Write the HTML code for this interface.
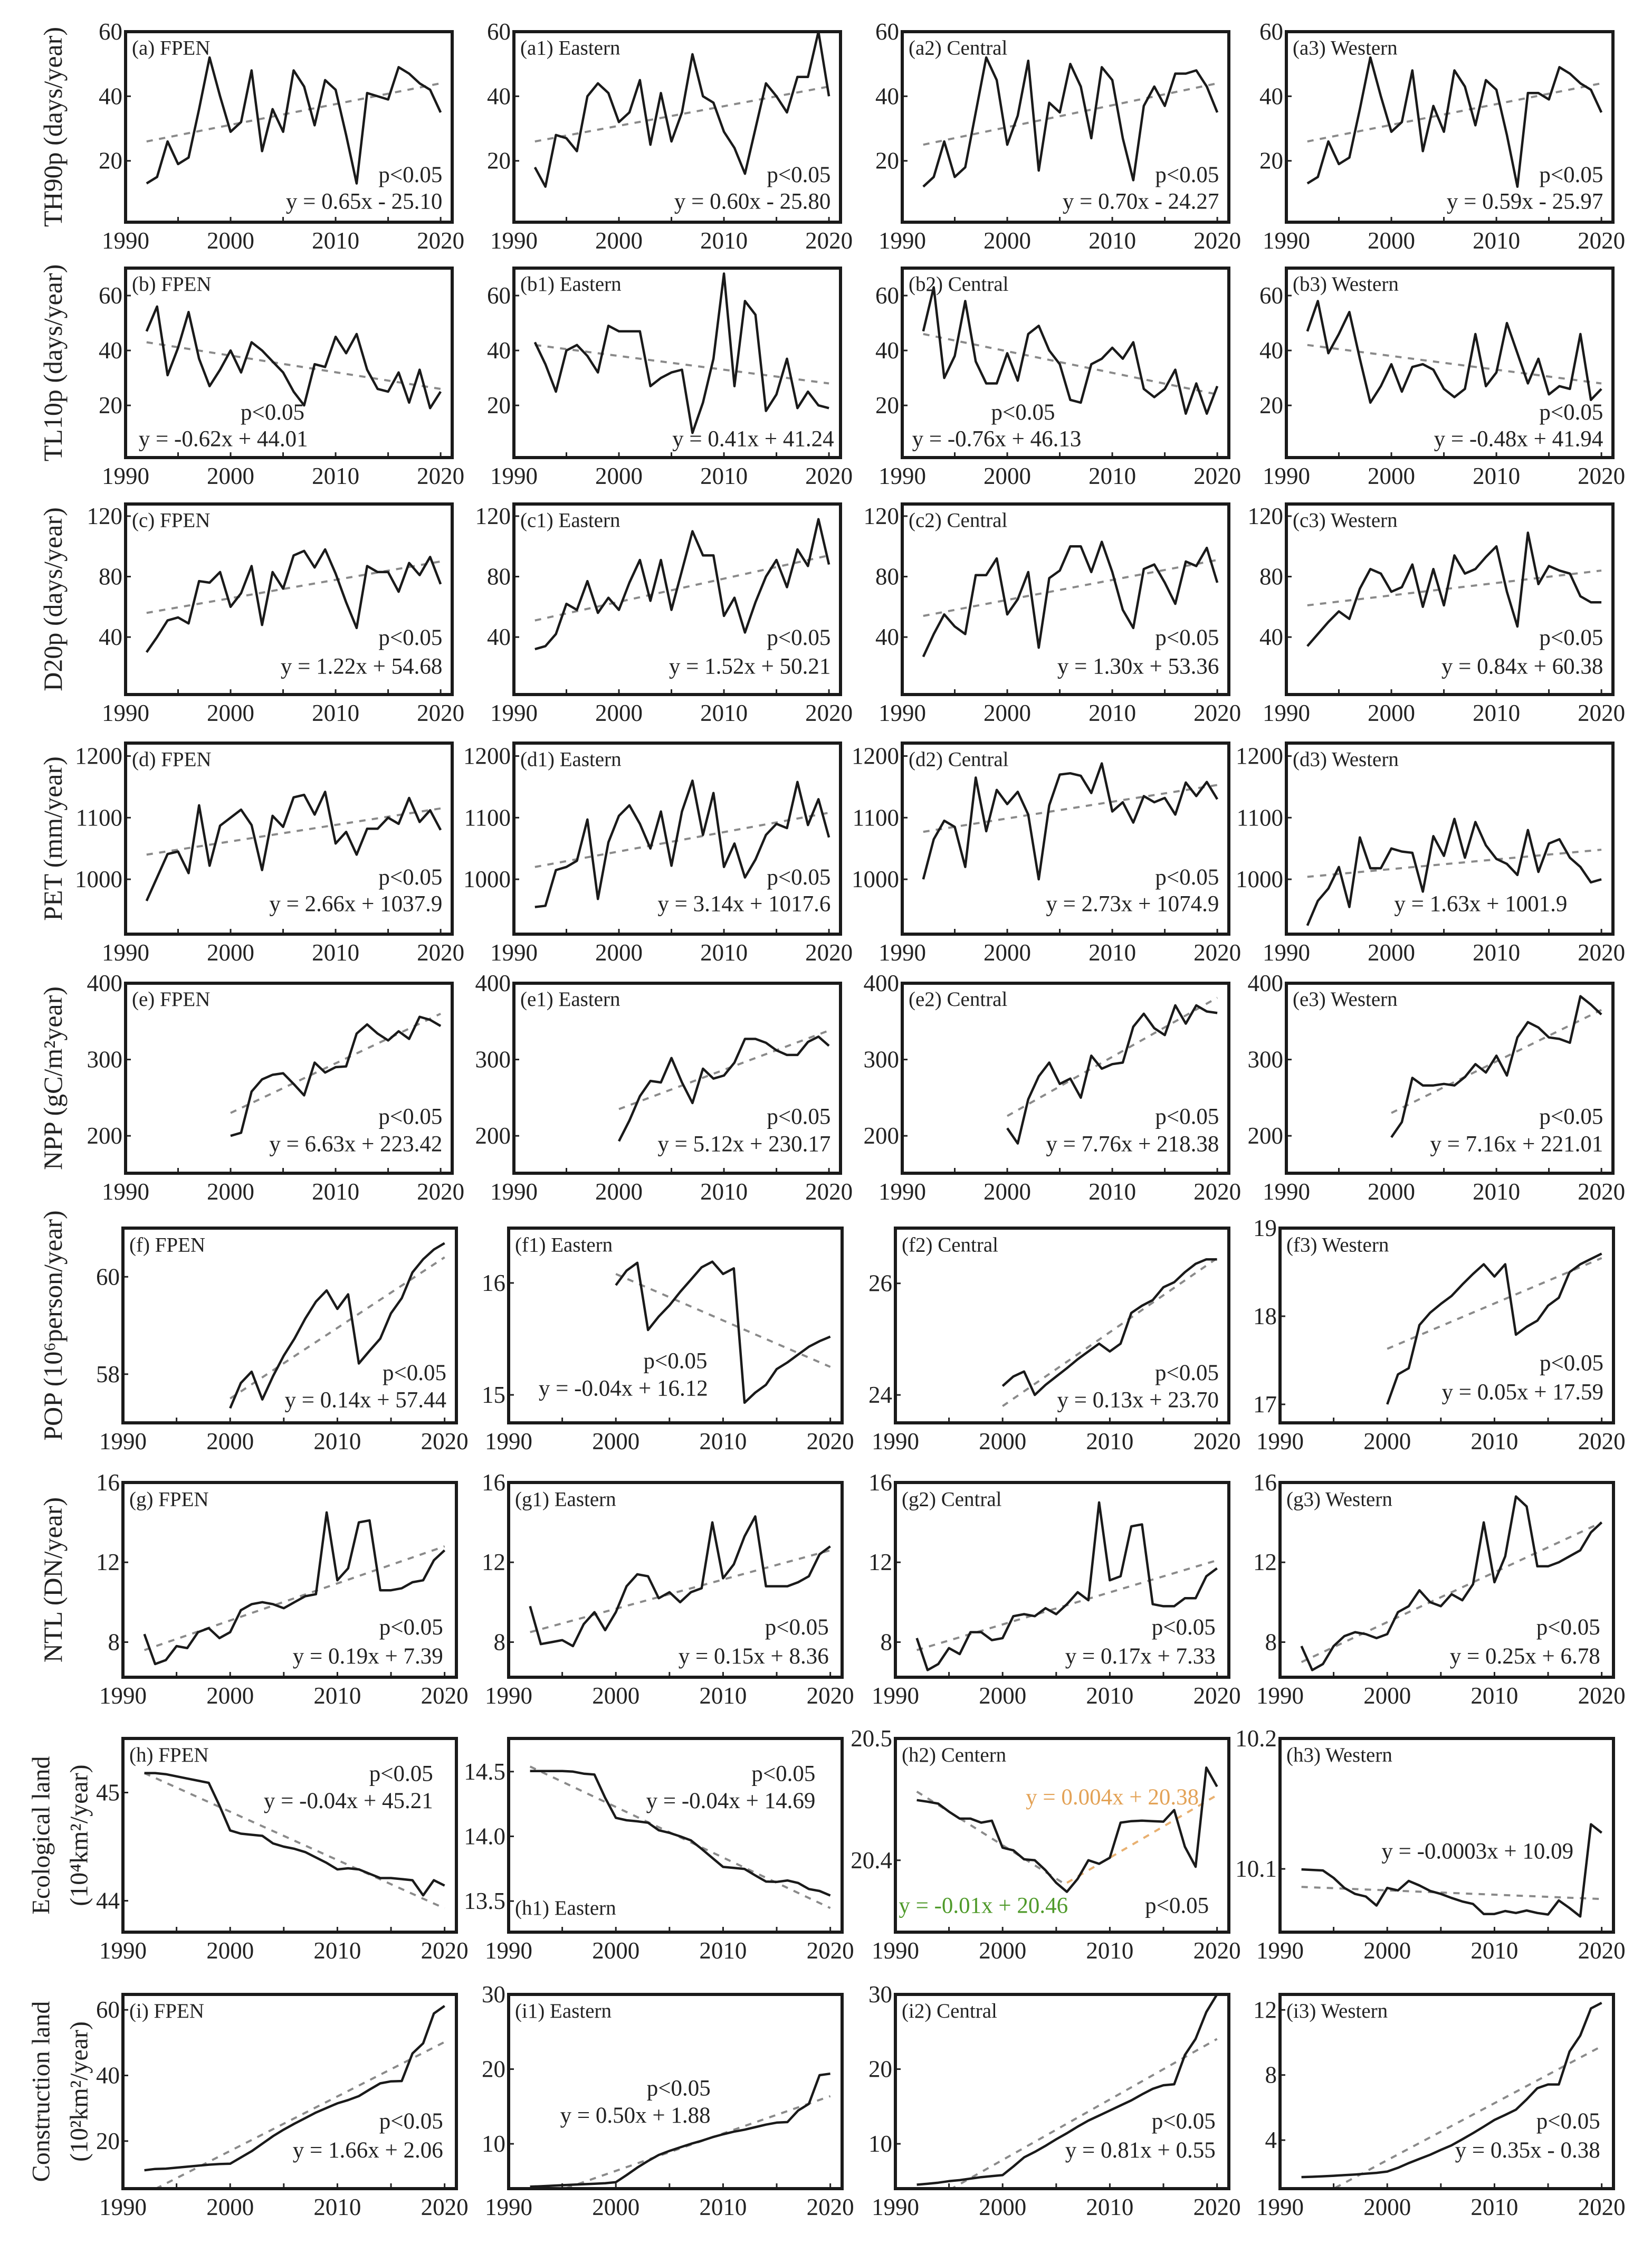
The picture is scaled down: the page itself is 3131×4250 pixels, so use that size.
<!DOCTYPE html>
<html><head><meta charset="utf-8"><style>
html,body{margin:0;padding:0;background:#fff;}
svg{display:block;font-family:"Liberation Serif","DejaVu Serif",serif;}
</style></head><body>
<svg id="fig" width="3131" height="4250" viewBox="0 0 3131 4250" xmlns="http://www.w3.org/2000/svg"></svg>
<script>
// ---------- data (1992-2020 unless noted; NPP/POP 2000-2020) ----------
const th90pFPEN=[13,15,26,19,21,36,52,40,29,32,48,23,36,29,48,43,31,45,42,28,13,41,40,39,49,47,44,42,35];
const th90pEast=[18,12,28,27,23,40,44,41,32,35,45,25,41,26,35,53,40,38,29,24,16,30,44,40,35,46,46,60,40];
const th90pCent=[12,15,26,15,18,35,52,45,25,34,51,17,38,35,50,43,27,49,45,27,14,37,43,37,47,47,48,43,35];
const th90pWest=[13,15,26,19,21,36,52,40,29,32,48,23,37,29,48,43,31,45,42,28,12,41,41,39,49,47,44,42,35];
const tl10pFPEN=[47,56,31,41,54,37,27,33,40,32,43,40,36,32,25,20,35,34,45,39,46,33,26,25,32,21,33,19,25];
const tl10pEast=[43,35,25,40,42,38,32,49,47,47,47,27,30,32,33,10,21,37,68,27,58,53,18,24,37,19,25,20,19];
const tl10pCent=[47,63,30,38,58,36,28,28,39,29,46,49,40,35,22,21,35,37,41,37,43,26,23,26,33,17,28,17,27];
const tl10pWest=[47,58,39,46,54,37,21,27,35,25,34,35,33,26,23,26,46,27,32,50,39,28,37,24,27,26,46,22,26];
const d20pFPEN=[30,40,51,53,49,77,76,83,60,69,87,48,83,72,94,97,86,98,82,63,46,87,83,83,70,89,81,93,75];
const d20pEast=[32,34,42,62,58,77,56,66,58,76,91,64,91,58,84,110,94,94,54,66,43,63,80,91,73,98,87,118,88];
const d20pCent=[27,42,55,47,42,81,81,92,55,65,83,33,79,84,100,100,83,103,83,58,46,85,88,76,62,90,87,99,76];
const d20pWest=[34,42,50,57,52,72,85,82,70,73,88,60,85,61,94,82,85,93,100,70,47,109,75,87,84,82,67,63,63];
const petFPEN=[965,1003,1041,1045,1010,1120,1022,1087,1100,1113,1088,1015,1103,1085,1133,1137,1105,1142,1058,1077,1040,1082,1082,1100,1090,1132,1093,1112,1080];
const petEast=[955,957,1015,1020,1030,1097,968,1060,1103,1120,1090,1050,1110,1022,1110,1160,1072,1140,1020,1058,1003,1032,1072,1090,1083,1158,1088,1130,1068];
const petCent=[1000,1065,1095,1085,1020,1165,1078,1145,1122,1142,1105,1000,1120,1170,1172,1168,1140,1188,1110,1125,1092,1135,1125,1132,1105,1157,1135,1158,1130];
const petWest=[925,965,985,1020,955,1068,1018,1018,1050,1045,1043,980,1070,1038,1098,1035,1093,1055,1033,1025,1007,1080,1012,1058,1065,1035,1020,995,1000];
const nppFPEN=[200,204,258,274,280,282,268,253,296,283,290,291,334,346,334,325,337,327,356,352,344];
const nppEast=[193,220,252,272,270,302,270,243,288,275,279,296,327,327,322,312,306,306,323,330,318];
const nppCent=[210,190,248,278,296,268,275,250,305,288,294,296,343,360,341,332,371,347,371,363,361];
const nppWest=[198,218,276,266,266,268,266,277,294,283,305,279,329,349,342,329,327,322,383,372,359];
const popFPEN=[57.3,57.82,58.05,57.48,57.96,58.38,58.73,59.14,59.49,59.72,59.34,59.64,58.22,58.48,58.73,59.25,59.56,60.09,60.36,60.56,60.69];
const popEast=[15.98,16.11,16.18,15.58,15.70,15.80,15.92,16.03,16.14,16.19,16.08,16.13,14.93,15.02,15.09,15.23,15.29,15.36,15.43,15.48,15.52];
const popCent=[24.16,24.33,24.42,24.0,24.18,24.33,24.48,24.64,24.78,24.92,24.78,24.92,25.47,25.6,25.7,25.93,26.02,26.2,26.35,26.43,26.43];
const popWest=[17.0,17.34,17.41,17.9,18.04,18.14,18.23,18.36,18.48,18.59,18.45,18.59,17.79,17.88,17.95,18.12,18.21,18.5,18.59,18.65,18.71];
const ntlFPEN=[8.4,6.9,7.1,7.8,7.7,8.5,8.7,8.2,8.5,9.6,9.9,10.0,9.9,9.7,10.0,10.3,10.4,14.5,11.1,11.7,14.0,14.1,10.6,10.6,10.7,11.0,11.1,12.1,12.6];
const ntlEast=[9.8,7.9,8.0,8.1,7.8,8.9,9.5,8.6,9.5,10.8,11.4,11.3,10.2,10.5,10.0,10.5,10.7,14.0,11.2,11.9,13.3,14.3,10.8,10.8,10.8,11.0,11.3,12.4,12.8];
const ntlCent=[8.2,6.6,6.9,7.7,7.4,8.5,8.5,8.1,8.2,9.3,9.4,9.3,9.7,9.4,9.9,10.5,10.1,15.0,11.1,11.3,13.8,13.9,9.9,9.8,9.8,10.2,10.2,11.3,11.7];
const ntlWest=[7.8,6.6,6.9,7.8,8.3,8.5,8.4,8.2,8.4,9.5,9.8,10.6,10.0,9.8,10.4,10.1,10.9,14.0,11.0,12.3,15.3,14.8,11.8,11.8,12.0,12.3,12.6,13.5,14.0];
const ecoFPEN=[45.18,45.18,45.17,45.15,45.13,45.11,45.09,44.88,44.65,44.62,44.61,44.60,44.53,44.5,44.48,44.45,44.40,44.35,44.29,44.30,44.29,44.25,44.21,44.21,44.2,44.19,44.05,44.19,44.14];
const ecoEast=[14.504,14.504,14.504,14.504,14.5,14.484,14.477,14.298,14.143,14.124,14.116,14.105,14.047,14.027,14.0,13.969,13.903,13.833,13.764,13.756,13.748,13.698,13.651,13.648,13.659,13.64,13.593,13.578,13.543];
const ecoCent=[20.4494,20.4481,20.4465,20.4399,20.4342,20.4342,20.4309,20.4325,20.4103,20.4082,20.4008,20.4,20.3918,20.3815,20.3741,20.3848,20.4,20.3971,20.4021,20.4309,20.4321,20.4325,20.4321,20.4317,20.4412,20.4111,20.3947,20.4761,20.4605];
const ecoWest=[10.0996,10.0992,10.0988,10.0931,10.0854,10.0808,10.0788,10.0719,10.0854,10.0835,10.0908,10.0873,10.0831,10.0808,10.0777,10.075,10.0731,10.0654,10.0654,10.0677,10.0662,10.0681,10.0662,10.065,10.0758,10.07,10.0635,10.1342,10.1277];
const conFPEN=[11.1,11.5,11.6,11.9,12.2,12.5,12.8,13.0,13.1,15.0,16.9,19.2,21.5,23.5,25.3,27.0,28.7,30.1,31.5,32.5,33.7,35.7,37.6,38.2,38.3,46.7,49.8,58.9,61.2];
const conEast=[4.26,4.32,4.39,4.46,4.53,4.59,4.66,4.73,4.86,5.81,6.82,7.70,8.51,9.05,9.53,10.0,10.41,10.88,11.28,11.62,11.89,12.23,12.57,12.84,12.91,14.46,15.34,19.19,19.39];
const conCent=[4.53,4.66,4.80,5.0,5.14,5.34,5.54,5.68,5.81,6.96,8.18,8.92,9.73,10.61,11.42,12.30,13.11,13.78,14.46,15.14,15.81,16.62,17.36,17.84,17.97,21.89,24.05,27.64,30.0];
const conWest=[1.73,1.75,1.78,1.81,1.85,1.89,1.94,1.99,2.07,2.3,2.59,2.85,3.1,3.4,3.68,4.05,4.43,4.83,5.24,5.55,5.87,6.5,7.19,7.42,7.42,9.44,10.42,12.09,12.43];
// trend lines: [startValue, endValue] over the series' years
const trendTH=[[26,44],[26,43],[25,44],[26,44]];
const trendTL=[[43,26],[42,28],[46,24],[42,28]];
const trendD20=[[56,90],[51,94],[54,91],[61,84]];
const trendPET=[[1040,1115],[1020,1108],[1077,1153],[1004,1048]];
const trendNPP=[[230,360],[235,338],[226,381],[230,365]];
const trendPOP=[[57.5,60.4],[16.08,15.25],[23.8,26.45],[17.63,18.66]];
const trendNTL=[[7.6,12.8],[8.5,12.6],[7.6,12.1],[7.0,14.0]];
const trendECO=[[45.18,43.93],[14.539,13.446],null,[10.0862,10.0769]];
const trendEcoCentGreen=[20.4564,20.3794]; // 1992-2006
const trendEcoCentOrange=[20.3815,20.4535]; // 2006-2020
const trendCON=[[3.72,50.2],[2.38,16.38],[1.36,24.04],[-0.03,9.77]];
const xTickYears=[1990,2000,2010,2020];
const eqTH=["y = 0.65x - 25.10","y = 0.60x - 25.80","y = 0.70x - 24.27","y = 0.59x - 25.97"];
const eqTL=["y = -0.62x + 44.01","y = 0.41x + 41.24","y = -0.76x + 46.13","y = -0.48x + 41.94"];
const eqD20=["y = 1.22x + 54.68","y = 1.52x + 50.21","y = 1.30x + 53.36","y = 0.84x + 60.38"];
const eqPET=["y = 2.66x + 1037.9","y = 3.14x + 1017.6","y = 2.73x + 1074.9","y = 1.63x + 1001.9"];
const eqNPP=["y = 6.63x + 223.42","y = 5.12x + 230.17","y = 7.76x + 218.38","y = 7.16x + 221.01"];
const eqPOP=["y = 0.14x + 57.44","y = -0.04x + 16.12","y = 0.13x + 23.70","y = 0.05x + 17.59"];
const eqNTL=["y = 0.19x + 7.39","y = 0.15x + 8.36","y = 0.17x + 7.33","y = 0.25x + 6.78"];
const eqECO=["y = -0.04x + 45.21","y = -0.04x + 14.69","y = 0.004x + 20.38","y = -0.0003x + 10.09"];
const eqEcoCentGreen="y = -0.01x + 20.46";
const eqCON=["y = 1.66x + 2.06","y = 0.50x + 1.88","y = 0.81x + 0.55","y = 0.35x - 0.38"];

// ---------- layout ----------
const NS="http://www.w3.org/2000/svg";
const svg=document.getElementById('fig');
const rowTB=[[60,421],[508,867],[955,1316],[1408,1770],[1863,2223],[2327,2696],[2809,3178],[3294,3661],[3779,4147]];
const colA=[238,974,1710,2438], WA=619, colB=[233,964,1697,2426], WB=632;
const X0=1990,X1=2021.1;
function el(tag,attrs,parent){const e=document.createElementNS(NS,tag);for(const k in attrs)e.setAttribute(k,attrs[k]);(parent||svg).appendChild(e);return e;}
function sx(p,yr){return p.L+(yr-X0)/(X1-X0)*p.W;}
function sy(p,v){return p.B-(v-p.ymin)/(p.ymax-p.ymin)*(p.B-p.T);}

const P="p<0.05";
const panels=[
 // row 0
 {r:0,c:0,lab:"(a) FPEN",v:th90pFPEN,s:1992,tr:trendTH[0],yr:[1,60],t:[20,40,60],ann:[[P,.97,.79,'end'],[eqTH[0],.97,.93,'end']]},
 {r:0,c:1,lab:"(a1) Eastern",v:th90pEast,s:1992,tr:trendTH[1],yr:[1,60],t:[20,40,60],ann:[[P,.97,.79,'end'],[eqTH[1],.97,.93,'end']]},
 {r:0,c:2,lab:"(a2) Central",v:th90pCent,s:1992,tr:trendTH[2],yr:[1,60],t:[20,40,60],ann:[[P,.97,.79,'end'],[eqTH[2],.97,.93,'end']]},
 {r:0,c:3,lab:"(a3) Western",v:th90pWest,s:1992,tr:trendTH[3],yr:[1,60],t:[20,40,60],ann:[[P,.97,.79,'end'],[eqTH[3],.97,.93,'end']]},
 {r:1,c:0,lab:"(b) FPEN",v:tl10pFPEN,s:1992,tr:trendTL[0],yr:[1,70],t:[20,40,60],ann:[[P,.45,.80,'middle'],[eqTL[0],.04,.94,'start']]},
 {r:1,c:1,lab:"(b1) Eastern",v:tl10pEast,s:1992,tr:trendTL[1],yr:[1,70],t:[20,40,60],ann:[[eqTL[1],.98,.94,'end']]},
 {r:1,c:2,lab:"(b2) Central",v:tl10pCent,s:1992,tr:trendTL[2],yr:[1,70],t:[20,40,60],ann:[[P,.37,.80,'middle'],[eqTL[2],.03,.94,'start']]},
 {r:1,c:3,lab:"(b3) Western",v:tl10pWest,s:1992,tr:trendTL[3],yr:[1,70],t:[20,40,60],ann:[[P,.97,.80,'end'],[eqTL[3],.97,.94,'end']]},
 {r:2,c:0,lab:"(c) FPEN",v:d20pFPEN,s:1992,tr:trendD20[0],yr:[2,128],t:[40,80,120],ann:[[P,.97,.74,'end'],[eqD20[0],.97,.89,'end']]},
 {r:2,c:1,lab:"(c1) Eastern",v:d20pEast,s:1992,tr:trendD20[1],yr:[2,128],t:[40,80,120],ann:[[P,.97,.74,'end'],[eqD20[1],.97,.89,'end']]},
 {r:2,c:2,lab:"(c2) Central",v:d20pCent,s:1992,tr:trendD20[2],yr:[2,128],t:[40,80,120],ann:[[P,.97,.74,'end'],[eqD20[2],.97,.89,'end']]},
 {r:2,c:3,lab:"(c3) Western",v:d20pWest,s:1992,tr:trendD20[3],yr:[2,128],t:[40,80,120],ann:[[P,.97,.74,'end'],[eqD20[3],.97,.89,'end']]},
 {r:3,c:0,lab:"(d) FPEN",v:petFPEN,s:1992,tr:trendPET[0],yr:[911,1221],t:[1000,1100,1200],ann:[[P,.97,.74,'end'],[eqPET[0],.97,.88,'end']]},
 {r:3,c:1,lab:"(d1) Eastern",v:petEast,s:1992,tr:trendPET[1],yr:[911,1221],t:[1000,1100,1200],ann:[[P,.97,.74,'end'],[eqPET[1],.97,.88,'end']]},
 {r:3,c:2,lab:"(d2) Central",v:petCent,s:1992,tr:trendPET[2],yr:[911,1221],t:[1000,1100,1200],ann:[[P,.97,.74,'end'],[eqPET[2],.97,.88,'end']]},
 {r:3,c:3,lab:"(d3) Western",v:petWest,s:1992,tr:trendPET[3],yr:[911,1221],t:[1000,1100,1200],ann:[[eqPET[3],.86,.88,'end']]},
 {r:4,c:0,lab:"(e) FPEN",v:nppFPEN,s:2000,tr:trendNPP[0],yr:[151,400],t:[200,300,400],ann:[[P,.97,.74,'end'],[eqNPP[0],.97,.885,'end']]},
 {r:4,c:1,lab:"(e1) Eastern",v:nppEast,s:2000,tr:trendNPP[1],yr:[151,400],t:[200,300,400],ann:[[P,.97,.74,'end'],[eqNPP[1],.97,.885,'end']]},
 {r:4,c:2,lab:"(e2) Central",v:nppCent,s:2000,tr:trendNPP[2],yr:[151,400],t:[200,300,400],ann:[[P,.97,.74,'end'],[eqNPP[2],.97,.885,'end']]},
 {r:4,c:3,lab:"(e3) Western",v:nppWest,s:2000,tr:trendNPP[3],yr:[151,400],t:[200,300,400],ann:[[P,.97,.74,'end'],[eqNPP[3],.97,.885,'end']]},
 {r:5,c:0,lab:"(f) FPEN",v:popFPEN,s:2000,tr:trendPOP[0],yr:[57,61],t:[58,60],ann:[[P,.97,.78,'end'],[eqPOP[0],.97,.92,'end']]},
 {r:5,c:1,lab:"(f1) Eastern",v:popEast,s:2000,tr:trendPOP[1],yr:[14.75,16.49],t:[15,16],ann:[[P,.5,.72,'middle'],[eqPOP[1],.09,.86,'start']]},
 {r:5,c:2,lab:"(f2) Central",v:popCent,s:2000,tr:trendPOP[2],yr:[23.5,26.99],t:[24,26],ann:[[P,.97,.78,'end'],[eqPOP[2],.97,.92,'end']]},
 {r:5,c:3,lab:"(f3) Western",v:popWest,s:2000,tr:trendPOP[3],yr:[16.79,19],t:[17,18,19],ann:[[P,.97,.73,'end'],[eqPOP[3],.97,.88,'end']]},
 {r:6,c:0,lab:"(g) FPEN",v:ntlFPEN,s:1992,tr:trendNTL[0],yr:[6.24,16],t:[8,12,16],ann:[[P,.96,.78,'end'],[eqNTL[0],.96,.93,'end']]},
 {r:6,c:1,lab:"(g1) Eastern",v:ntlEast,s:1992,tr:trendNTL[1],yr:[6.24,16],t:[8,12,16],ann:[[P,.96,.78,'end'],[eqNTL[1],.96,.93,'end']]},
 {r:6,c:2,lab:"(g2) Central",v:ntlCent,s:1992,tr:trendNTL[2],yr:[6.24,16],t:[8,12,16],ann:[[P,.96,.78,'end'],[eqNTL[2],.96,.93,'end']]},
 {r:6,c:3,lab:"(g3) Western",v:ntlWest,s:1992,tr:trendNTL[3],yr:[6.24,16],t:[8,12,16],ann:[[P,.96,.78,'end'],[eqNTL[3],.96,.93,'end']]},
 {r:7,c:0,lab:"(h) FPEN",v:ecoFPEN,s:1992,tr:trendECO[0],yr:[43.71,45.5],t:[44,45],ann:[[P,.93,.22,'end'],[eqECO[0],.93,.36,'end']]},
 {r:7,c:1,lab:"(h1) Eastern",labY:.91,v:ecoEast,s:1992,tr:trendECO[1],yr:[13.26,14.756],t:[13.5,14.0,14.5],tf:1,ann:[[P,.92,.22,'end'],[eqECO[1],.92,.36,'end']]},
 {r:7,c:2,lab:"(h2) Centern",v:ecoCent,s:1992,tr:null,yr:[20.341,20.5],t:[20.4,20.5],tf:1,ann:[[P,.94,.90,'end'],[eqECO[2],.91,.34,'end','#e3a256'],[eqEcoCentGreen,.01,.90,'start','#4f9a2a']]},
 {r:7,c:3,lab:"(h3) Western",v:ecoWest,s:1992,tr:trendECO[3],yr:[10.0515,10.2],t:[10.1,10.2],tf:1,ann:[[eqECO[3],.88,.62,'end']]},
 {r:8,c:0,lab:"(i) FPEN",v:conFPEN,s:1992,tr:trendCON[0],yr:[5.5,64.7],t:[20,40,60],ann:[[P,.96,.69,'end'],[eqCON[0],.96,.84,'end']]},
 {r:8,c:1,lab:"(i1) Eastern",v:conEast,s:1992,tr:trendCON[1],yr:[4,30],t:[10,20,30],ann:[[P,.51,.52,'middle'],[eqCON[1],.38,.66,'middle']]},
 {r:8,c:2,lab:"(i2) Central",v:conCent,s:1992,tr:trendCON[2],yr:[4,30],t:[10,20,30],ann:[[P,.96,.69,'end'],[eqCON[2],.96,.84,'end']]},
 {r:8,c:3,lab:"(i3) Western",v:conWest,s:1992,tr:trendCON[3],yr:[1.02,12.95],t:[4,8,12],ann:[[P,.96,.69,'end'],[eqCON[3],.96,.84,'end']]}
];

const yTitles=[
 ["TH90p (days/year)"],["TL10p (days/year)"],["D20p (days/year)"],["PET (mm/year)"],
 ["NPP (gC/m²year)"],["POP (10⁶person/year)"],["NTL (DN/year)"],
 ["Ecological land","(10⁴km²/year)"],["Construction land","(10²km²/year)"]
];

// y-axis titles
yTitles.forEach((lines,r)=>{
  const cy=(rowTB[r][0]+rowTB[r][1])/2;
  lines.forEach((s,i)=>{
    const x = lines.length===1 ? 100 : (i===0?78:150);
    const t=el('text',{x:x,y:cy,transform:`rotate(-90 ${x} ${cy})`,'text-anchor':'middle','dominant-baseline':'central','font-size':lines.length===1?50:48,fill:'#222'});
    
    
    t.textContent=s;
  });
});

panels.forEach((pc,idx)=>{
  const big=pc.r>=5;
  const p={L:(big?colB:colA)[pc.c],W:big?WB:WA,T:rowTB[pc.r][0],B:rowTB[pc.r][1],ymin:pc.yr[0],ymax:pc.yr[1]};
  const g=el('g',{});
  
  
  const cid='clip'+idx;
  const cp=el('clipPath',{id:cid},g);
  el('rect',{x:p.L,y:p.T,width:p.W,height:p.B-p.T},cp);
  // ticks
  for(let yr=1995;yr<=2020;yr+=5){
    const x=sx(p,yr);
    const tk=el('line',{x1:x,x2:x,y1:p.B,y2:p.B-10,stroke:'#222','stroke-width':3},g);
    
    
  }
  xTickYears.forEach(yr=>{
    const t=el('text',{x:sx(p,yr),y:p.B+50,'text-anchor':'middle','font-size':45,fill:'#222'},g);
    
    
    t.textContent=yr;
  });
  pc.t.forEach(v=>{
    const y=sy(p,v);
    const tk=el('line',{x1:p.L,x2:p.L+10,y1:y,y2:y,stroke:'#222','stroke-width':3},g);
    
    
    const t=el('text',{x:p.L-6,y:y,'text-anchor':'end','dominant-baseline':'central','font-size':45,fill:'#222'},g);
    
    
    t.textContent=pc.tf?v.toFixed(1):String(v);
  });
  const lg=el('g',{'clip-path':`url(#${cid})`},g);
  const endYear=pc.s+pc.v.length-1;
  // trend
  function dashed(y0,y1,v0,v1,color){
    const l=el('line',{x1:sx(p,y0),y1:sy(p,v0),x2:sx(p,y1),y2:sy(p,v1),stroke:color,'stroke-width':4,'stroke-dasharray':'12 12'},lg);
    
    
  }
  if(pc.tr) dashed(pc.s,endYear,pc.tr[0],pc.tr[1],'#8a8a8a');
  if(pc.r===7&&pc.c===2){
    dashed(1992,2006,trendEcoCentGreen[0],trendEcoCentGreen[1],'#8a8a8a');
    dashed(2006,2020,trendEcoCentOrange[0],trendEcoCentOrange[1],'#e8b070');
  }
  const pts=pc.v.map((v,i)=>sx(p,pc.s+i).toFixed(1)+','+sy(p,v).toFixed(1)).join(' ');
  const pl=el('polyline',{points:pts,fill:'none',stroke:'#1a1a1a','stroke-width':4.5,'stroke-linejoin':'round'},lg);
  
  
  // frame
  const fr=el('rect',{x:p.L,y:p.T,width:p.W,height:p.B-p.T,fill:'none',stroke:'#1a1a1a','stroke-width':6},g);
  
  
  // panel label
  const lb=el('text',{x:p.L+12,y:p.T+(p.B-p.T)*(pc.labY||.12),'font-size':39,fill:'#222'},g);
  
  
  lb.textContent=pc.lab;
  pc.ann.forEach(a=>{
    const t=el('text',{x:p.L+p.W*a[1],y:p.T+(p.B-p.T)*a[2],'text-anchor':a[3],'font-size':43,fill:a[4]||'#222'},g);
    
    
    t.textContent=a[0];
  });
});
</script>
</body></html>
